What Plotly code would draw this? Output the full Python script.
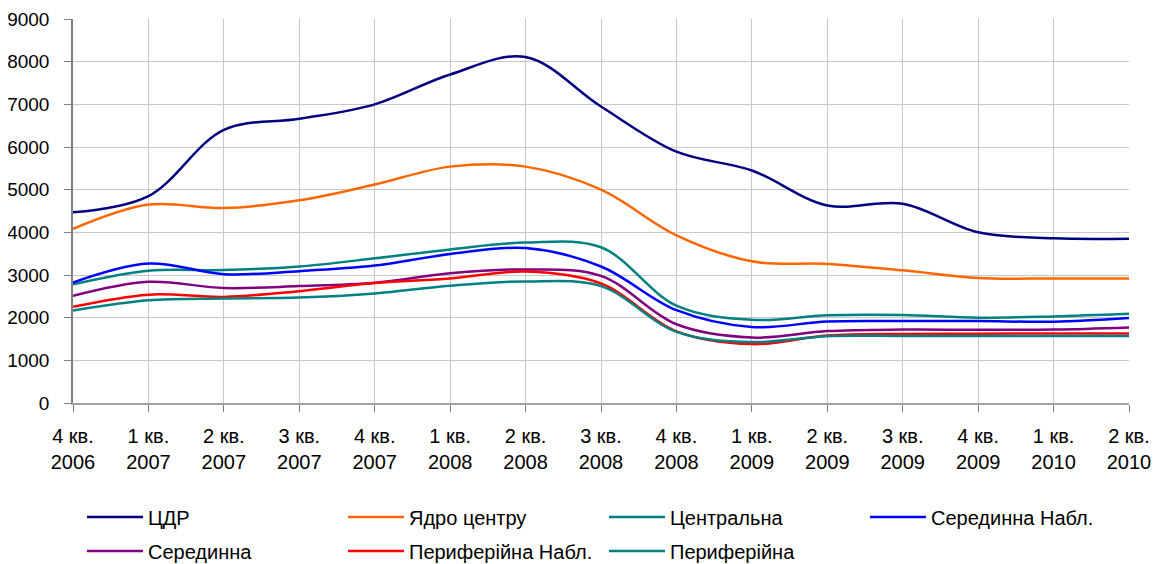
import plotly.graph_objects as go

# quarters, Q4 2006 .. Q2 2010
quarters = ["4 кв.<br>2006", "1 кв.<br>2007", "2 кв.<br>2007", "3 кв.<br>2007",
            "4 кв.<br>2007", "1 кв.<br>2008", "2 кв.<br>2008", "3 кв.<br>2008",
            "4 кв.<br>2008", "1 кв.<br>2009", "2 кв.<br>2009", "3 кв.<br>2009",
            "4 кв.<br>2009", "1 кв.<br>2010", "2 кв.<br>2010"]

cdr = [4470, 4850, 6400, 6660, 7000, 7700, 8110, 6950, 5890, 5450, 4630, 4670, 4000, 3860, 3850]
core = [4080, 4650, 4570, 4750, 5120, 5540, 5540, 5000, 3930, 3320, 3260, 3110, 2930, 2920, 2920]
central = [2780, 3100, 3115, 3200, 3390, 3600, 3760, 3650, 2280, 1950, 2055, 2060, 2000, 2030, 2090]
middle_obs = [2825, 3270, 3020, 3090, 3220, 3490, 3630, 3200, 2175, 1780, 1910, 1920, 1920, 1905, 1990]
middle = [2510, 2840, 2695, 2740, 2820, 3040, 3130, 2980, 1846, 1534, 1685, 1720, 1715, 1720, 1770]
periph_obs = [2253, 2540, 2487, 2620, 2810, 2920, 3080, 2800, 1680, 1380, 1580, 1620, 1625, 1630, 1630]
periph = [2167, 2409, 2449, 2470, 2566, 2750, 2850, 2740, 1666, 1430, 1565, 1570, 1570, 1570, 1570]

series = [
    ("ЦДР", cdr, "#000080", "legend"),
    ("Ядро центру", core, "#FF6600", "legend"),
    ("Центральна", central, "#008080", "legend"),
    ("Серединна Набл.", middle_obs, "#0000FF", "legend"),
    ("Серединна", middle, "#800080", "legend2"),
    ("Периферійна Набл.", periph_obs, "#FF0000", "legend2"),
    ("Периферійна", periph, "#008080", "legend2"),
]

FONT = dict(family="Liberation Sans, Arial, sans-serif", size=20, color="black")

# the page body keeps its default 8px margin, so the figure is 8px smaller
W, H = 1153, 556

xs = list(range(len(quarters)))
fig = go.Figure()
for name, ys, col, leg in series:
    fig.add_trace(go.Scatter(
        x=xs, y=ys, mode="lines", name=name, legend=leg,
        line=dict(color=col, width=2.5, shape="spline", smoothing=1.0)))

legend_common = dict(orientation="h", xref="container", yref="container",
                     xanchor="left", yanchor="middle", font=FONT,
                     entrywidth=190, entrywidthmode="pixels",
                     bgcolor="rgba(0,0,0,0)", itemwidth=56, tracegroupgap=0)

fig.update_layout(
    width=W, height=H,
    margin=dict(l=65, r=32, t=11, b=161, autoexpand=False),
    paper_bgcolor="white", plot_bgcolor="white",
    font=FONT,
    showlegend=True,
    legend=dict(x=74 / W, y=1 - 509 / H, **legend_common),
    legend2=dict(x=74 / W, y=1 - 543 / H, **legend_common),
    xaxis=dict(range=[0, 14], tickmode="array", tickvals=xs, ticktext=quarters,
               showgrid=True, gridcolor="#c8c8c8", gridwidth=1,
               showline=True, linecolor="#a0a0a0", linewidth=2,
               ticks="outside", ticklen=7, tickcolor="#808080",
               ticklabelstandoff=7, zeroline=False, mirror=False),
    yaxis=dict(range=[0, 9000], tickvals=list(range(0, 9001, 1000)),
               tickfont=dict(size=19),
               showgrid=True, gridcolor="#c8c8c8", gridwidth=1,
               showline=True, linecolor="#808080", linewidth=1.5,
               ticks="outside", ticklen=7, tickcolor="#808080",
               ticklabelstandoff=11, zeroline=False),
)

fig.write_html("out.html")
